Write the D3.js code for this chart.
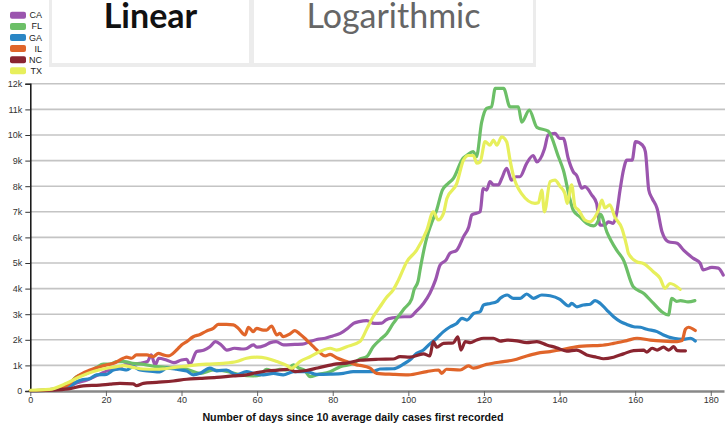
<!DOCTYPE html>
<html>
<head>
<meta charset="utf-8">
<script src="https://cdn.jsdelivr.net/npm/d3@7"></script>
<style>
  body { margin: 0; background: #fff; }
  svg { display: block; }
</style>
</head>
<body>
<svg id="chart" width="727" height="424"></svg>
<script>
// ---- DATA ----
const states = ["CA", "FL", "GA", "IL", "NC", "TX"];
const colors = ["#9b55ae", "#6cbf67", "#2a86c5", "#e0652a", "#8a2530", "#e7ef5c"];
const scaleButtons = ["Linear", "Logarithmic"];
const yTicks = [0,1000,2000,3000,4000,5000,6000,7000,8000,9000,10000,11000,12000];
const xTicks = [0,20,40,60,80,100,120,140,160,180];
const xLabel = "Number of days since 10 average daily cases first recorded";

// [day, 7-day average daily cases]
const CA = [[0,20],[4,40],[8,100],[10,150],[12,300],[15,430],[18,630],[21,820],[23,860],[25,1020],[27,1050],[29,1080],[31,1150],[32,1410],[33,1020],[34,1280],[36,1210],[38,1110],[40,1210],[41.4,1240],[42.2,1040],[44,1540],[46,1600],[47.5,1730],[49,1930],[50.5,1800],[52,1600],[54,1670],[56,1640],[57,1650],[59,1800],[60,1710],[62,1780],[63.5,1890],[65,1930],[67,1800],[70,1820],[72,1830],[74,1930],[76,2020],[78,2060],[80,2150],[82,2250],[84,2450],[85.5,2640],[87,2710],[89,2750],[91,2640],[93,2650],[94,2770],[96,2860],[99,2900],[100.5,2900],[102,3100],[104,3420],[105.7,3820],[107.2,4340],[108.4,4920],[110,5120],[111,5380],[112.8,5500],[114.6,6030],[116,6420],[116.8,6880],[119,7000],[119.8,7910],[120.7,7850],[121.6,8180],[122.5,8050],[123.8,8050],[124.7,8300],[126,8700],[127.3,8240],[128.5,8370],[129.5,8370],[131.3,8890],[133,9200],[134,8950],[136,9450],[137,10000],[138.8,10060],[140,9870],[141,9870],[142.3,9080],[143.6,8570],[144.6,8400],[145.9,7920],[146.7,7980],[148.5,7660],[149.8,7330],[150.7,6480],[152,6480],[152.9,6610],[154.2,6550],[155.1,6940],[156,7850],[156.9,8630],[157.8,9020],[159.2,9020],[160.1,9740],[161.9,9610],[162.7,9350],[163.6,7850],[164.5,7520],[165.8,7130],[167.1,6220],[168.8,5830],[171.1,5770],[172.8,5500],[175.4,5180],[177.2,4990],[178,4730],[180.3,4830],[182,4800],[183.3,4530]];

const FL = [[0,20],[4,40],[8,120],[10,250],[12.3,560],[15,690],[17.5,920],[19.3,1050],[21,1050],[23,1150],[25,1150],[27,1080],[30,1040],[33.4,950],[37.8,910],[41.4,850],[45,690],[48.4,820],[52,760],[55.5,630],[59,590],[60.8,630],[62.5,850],[64.3,780],[66,850],[67.8,820],[69.6,1020],[71,900],[72.5,820],[74,560],[76,640],[79.3,750],[82,950],[85.4,1080],[87.2,1250],[89,1340],[90.7,1730],[92.5,2000],[94.3,2250],[96,2640],[97,2840],[99,3230],[100.9,3600],[101.5,3950],[102.6,4300],[103.1,4730],[104.9,6000],[106,6500],[107.5,7070],[109,7850],[110.5,8100],[111.9,8300],[114.5,9100],[115.4,9200],[117.2,9350],[118,9150],[119.4,10500],[120.7,11040],[122,11100],[123,11820],[125.2,11820],[126.9,11100],[129.1,11100],[130,10500],[132,10970],[134,10300],[137,10150],[139.7,9150],[141,8630],[142.8,7460],[143.6,7070],[145.4,6800],[147.2,6550],[149,6450],[150.3,6680],[150.8,6900],[152.5,6220],[155.1,5500],[156.9,5120],[159.5,4070],[162.2,3820],[164.8,3430],[167,3100],[168.8,2970],[169.7,3620],[171,3500],[172,3530],[174,3480],[175.8,3530]];

const GA = [[0,10],[5,30],[8,80],[10,150],[12.3,360],[13.5,430],[15.8,490],[17.5,630],[20.2,650],[22,820],[23.7,860],[25.5,820],[27.2,950],[29,820],[31.7,780],[34.3,750],[36.1,890],[38.7,850],[41.4,780],[43.1,630],[44.9,690],[47.5,890],[49.3,790],[51.9,820],[54.6,630],[57.2,760],[59,690],[61.6,630],[64.3,690],[66.9,630],[69.6,760],[73.1,760],[75.7,650],[79.3,660],[82.8,690],[85.4,760],[88,760],[90.7,760],[92.5,860],[96,870],[98.6,1040],[100.4,1210],[102.2,1470],[104,1600],[105.7,1840],[107.5,2060],[109.3,2320],[111.1,2510],[112.8,2640],[114.2,2840],[115.5,2770],[117.3,3030],[119,3100],[119.9,3360],[121.7,3420],[123.4,3490],[124.3,3620],[126.1,3750],[127.8,3620],[129.6,3620],[131.3,3790],[133.1,3620],[135.3,3750],[137.5,3720],[140.1,3580],[142.4,3320],[143.2,3420],[144.6,3290],[146.3,3360],[148.1,3390],[149.4,3530],[150.8,3420],[152.5,3160],[154.3,2900],[156.1,2710],[157.8,2600],[159.6,2510],[161.4,2490],[163.1,2410],[165.8,2320],[167.5,2190],[170.2,2060],[172.8,2020],[174.6,2060],[175.9,1950]];

const IL = [[0,20],[5,40],[8,120],[10,250],[12.3,560],[15.8,820],[18.4,950],[20.2,1020],[22,1080],[24.6,1280],[25.5,1320],[26.8,1280],[28.1,1410],[30.8,1410],[32.5,1340],[33.9,1470],[35.2,1410],[36.5,1370],[38.7,1600],[40,1800],[41.4,1930],[43.1,2120],[44.9,2210],[46.6,2340],[48.4,2450],[49.7,2600],[51.9,2600],[53.7,2580],[55,2450],[56.8,2190],[57.7,2490],[59,2320],[59.9,2450],[61.6,2380],[62.5,2380],[63.8,2540],[65.2,2190],[66,2250],[66.9,2120],[68.7,2230],[70,2360],[71.3,2230],[73.1,1990],[74.9,1730],[76.6,1500],[78,1370],[79.3,1430],[81,1300],[83.7,1150],[86.3,1020],[87.2,1000],[89.9,890],[91.6,690],[96,650],[100,630],[104.9,760],[108,820],[108.8,690],[110.1,850],[113.7,820],[115.9,980],[117.2,890],[120.7,1040],[125.1,1150],[127.8,1210],[131.3,1370],[134,1470],[137.5,1540],[140.1,1600],[143.7,1710],[147.2,1760],[150.8,1780],[154.3,1860],[157.8,1970],[160.5,2060],[164,1990],[167.5,1950],[171.1,1930],[172.4,1970],[173.3,2410],[174.1,2490],[175.9,2360]];

const NC = [[0,10],[5,30],[10,80],[14,200],[18.4,230],[21.1,270],[23.7,300],[27.2,280],[28.1,210],[29.9,300],[33.4,340],[37.8,390],[41.4,460],[44.9,490],[49.3,530],[53.7,590],[57.2,630],[59.9,720],[62.5,780],[66,820],[68.7,850],[70,760],[73,800],[76,900],[78.4,980],[80.2,1040],[83.7,1090],[87.2,1200],[92,1240],[96,1250],[97.8,1340],[100.4,1320],[104,1450],[105.7,1370],[106.6,1930],[107.5,1710],[109.3,1860],[111.9,1880],[113.1,2120],[113.9,1600],[115.1,1930],[116.4,1890],[118.1,1990],[119.9,2060],[122.5,2060],[124.3,1950],[126.1,1990],[128.7,1960],[131.3,1890],[134,1930],[136.6,1800],[139.2,1690],[141.9,1560],[144.5,1600],[147.2,1410],[149.8,1320],[151.6,1260],[154.3,1320],[156.9,1450],[159.6,1580],[162.2,1600],[163.1,1520],[164.5,1670],[165.8,1600],[167.5,1710],[168.9,1600],[170.2,1730],[171.1,1580],[173.3,1570]];

const TX = [[0,30],[5,60],[9.6,300],[13.1,560],[16.7,760],[20.2,890],[22.8,950],[24.6,990],[27.2,920],[29.9,860],[33.4,850],[37.8,910],[42.2,990],[46.6,1050],[51,1080],[54.6,1150],[57.2,1280],[59.9,1320],[62.5,1280],[65.2,1150],[67.8,1000],[69.1,890],[71.3,1150],[74,1340],[76.6,1540],[79.3,1670],[81,1600],[83.7,1730],[87.2,1930],[89,2420],[90.7,2900],[92.5,3290],[94.2,3650],[96,3950],[97.4,4340],[99.6,5050],[102.2,5500],[104.9,6290],[106.6,7000],[107.9,6680],[109.3,6940],[110.2,7520],[112.8,8100],[114.6,9020],[115.9,9200],[117.2,9200],[118.1,8900],[119,8950],[120.3,9740],[121.6,9600],[122.5,9800],[123.4,9600],[124.7,9930],[126,9740],[126.9,9020],[127.8,8400],[130,7700],[133.5,7330],[134.4,7350],[135.3,7850],[136,7000],[137.5,8180],[138.8,8240],[140.1,8000],[141.4,7720],[142,7330],[143.2,8050],[144.1,7200],[145,7070],[146.7,6680],[148.1,6610],[149.4,6800],[150.3,7070],[151.2,7460],[152,7150],[153.3,7270],[154.6,6800],[156.5,6350],[157.8,5640],[158.2,5380],[160.4,5050],[162.2,4980],[164.8,4660],[166.6,4400],[167.9,4010],[169.2,4200],[171.9,3970]];

const seriesData = [CA, FL, GA, IL, NC, TX];

// ---- DRAW ----
const svg = d3.select("#chart");

// scale buttons
svg.append("rect").attr("x", 49).attr("y", -5).attr("width", 487).attr("height", 72).attr("fill", "#ececec");
const btnBoxes = [[52, 197], [254, 279]];
btnBoxes.forEach((b, i) => {
  svg.append("rect").attr("x", b[0]).attr("y", -5).attr("width", b[1]).attr("height", 68).attr("fill", "#fff");
  svg.append("text")
    .attr("x", b[0] + b[1] / 2).attr("y", 28)
    .attr("text-anchor", "middle")
    .style("font-family", "Lato, sans-serif")
    .style("font-size", "34px")
    .style("font-weight", i === 0 ? "bold" : "normal")
    .attr("fill", i === 0 ? "#111" : "#666")
    .text(scaleButtons[i]);
});

// legend
const leg = svg.append("g");
states.forEach((s, i) => {
  const cy = 15.3 + i * 11.1;
  leg.append("rect").attr("x", 10).attr("y", cy - 3.5).attr("width", 16).attr("height", 7).attr("rx", 2).attr("fill", colors[i]);
  leg.append("text").attr("x", 42).attr("y", cy + 3)
    .attr("text-anchor", "end")
    .style("font-family", "'Liberation Sans', Arial, sans-serif")
    .style("font-size", "9px").attr("fill", "#222").text(s);
});

const x = d3.scaleLinear().domain([0, 183.5]).range([30.3, 724]);
const y = d3.scaleLinear().domain([0, 12000]).range([391, 83.8]);

// gridlines
svg.append("g").selectAll("line").data(yTicks.filter(d => d > 0)).join("line")
  .attr("x1", 30).attr("x2", 725)
  .attr("y1", d => y(d)).attr("y2", d => y(d))
  .attr("stroke", "#c4c4c4").attr("stroke-width", 1.6);

// y axis
const yAxis = svg.append("g").attr("transform", "translate(30.3,0)")
  .call(d3.axisLeft(y).tickValues(yTicks).tickFormat(d3.format("~s")).tickSize(5).tickPadding(3));
yAxis.select(".domain").attr("stroke", "#111").attr("stroke-width", 1.5);
yAxis.selectAll(".tick line").attr("stroke", "#333");
yAxis.selectAll("text").style("font-family", "'Liberation Sans', Arial, sans-serif").style("font-size", "9px").attr("fill", "#333");

// x axis
const xAxis = svg.append("g").attr("transform", "translate(0,391)")
  .call(d3.axisBottom(x).tickValues(xTicks).tickSize(5).tickSizeOuter(0).tickPadding(1));
xAxis.select(".domain").attr("stroke", "#888").attr("stroke-width", 2.5);
xAxis.selectAll(".tick line").attr("stroke", "#666");
xAxis.selectAll("text").style("font-family", "'Liberation Sans', Arial, sans-serif").style("font-size", "9px").attr("fill", "#333");

svg.append("text").attr("x", 353).attr("y", 421).attr("text-anchor", "middle")
  .style("font-family", "'Liberation Sans', Arial, sans-serif")
  .style("font-size", "10.7px").style("font-weight", "bold").attr("fill", "#111")
  .text(xLabel);

// lines
const line = d3.line().x(d => x(d[0])).y(d => y(d[1])).curve(d3.curveMonotoneX);
svg.append("g").selectAll("path").data(seriesData).join("path")
  .attr("d", line)
  .attr("fill", "none")
  .attr("stroke", (d, i) => colors[i])
  .attr("stroke-width", 3.2)
  .attr("stroke-linejoin", "round")
  .attr("stroke-linecap", "round");
</script>
</body>
</html>
